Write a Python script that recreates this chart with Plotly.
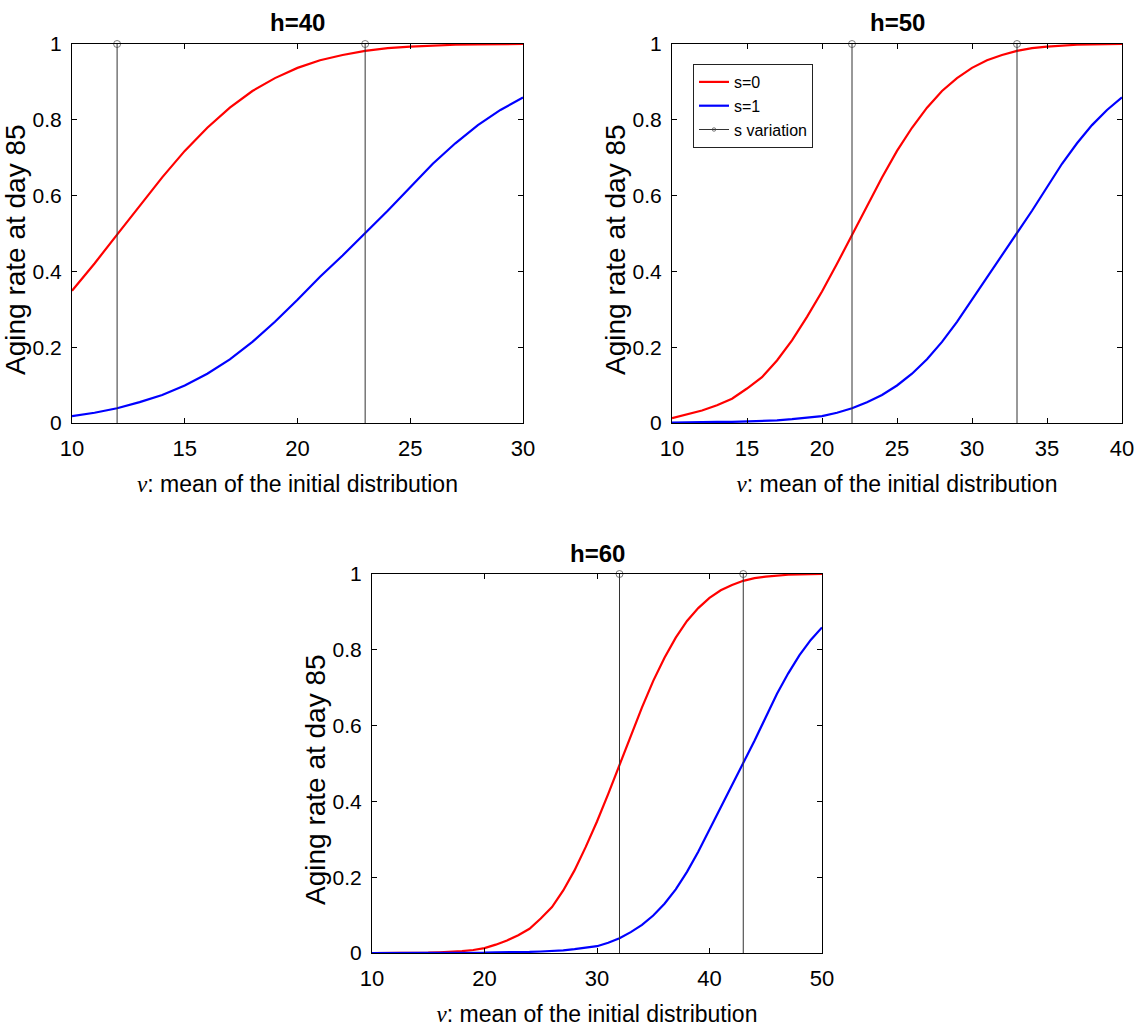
import plotly.graph_objects as go

# ---------------- data ----------------
nu_h40 = list(range(10, 31))
s0_h40 = [0.349, 0.421, 0.497, 0.574, 0.648, 0.718, 0.779, 0.832, 0.876, 0.910,
          0.937, 0.957, 0.971, 0.982, 0.989, 0.993, 0.996, 0.998, 0.999, 1.0, 1.0]
s1_h40 = [0.018, 0.027, 0.039, 0.055, 0.074, 0.099, 0.130, 0.168, 0.214, 0.267,
          0.325, 0.386, 0.442, 0.500, 0.560, 0.622, 0.684, 0.738, 0.786, 0.826, 0.859]

nu_h50 = list(range(10, 41))
s0_h50 = [0.013, 0.022, 0.033, 0.047, 0.064, 0.091, 0.121, 0.165, 0.218, 0.280,
          0.347, 0.420, 0.497, 0.574, 0.648, 0.718, 0.779, 0.832, 0.876, 0.910,
          0.937, 0.957, 0.971, 0.982, 0.989, 0.993, 0.996, 0.998, 0.999, 1.0, 1.0]
s1_h50 = [0.001, 0.002, 0.002, 0.003, 0.003, 0.004, 0.005, 0.007, 0.010, 0.013,
          0.018, 0.027, 0.039, 0.055, 0.074, 0.099, 0.130, 0.168, 0.214, 0.267,
          0.325, 0.386, 0.442, 0.500, 0.560, 0.622, 0.684, 0.738, 0.786, 0.826, 0.859]

nu_h60 = list(range(10, 51))
s0_h60 = [0.000, 0.000, 0.000, 0.000, 0.001, 0.001, 0.002, 0.003, 0.005, 0.008,
          0.013, 0.022, 0.033, 0.047, 0.064, 0.091, 0.121, 0.165, 0.218, 0.280,
          0.347, 0.420, 0.497, 0.574, 0.648, 0.718, 0.779, 0.832, 0.876, 0.910,
          0.937, 0.957, 0.971, 0.982, 0.989, 0.993, 0.996, 0.998, 0.999, 1.0, 1.0]
s1_h60 = [0.000, 0.000, 0.000, 0.000, 0.000, 0.000, 0.000, 0.000, 0.001, 0.001,
          0.001, 0.002, 0.002, 0.003, 0.003, 0.004, 0.005, 0.007, 0.010, 0.013,
          0.018, 0.027, 0.039, 0.055, 0.074, 0.099, 0.130, 0.168, 0.214, 0.267,
          0.325, 0.386, 0.442, 0.500, 0.560, 0.622, 0.684, 0.738, 0.786, 0.826, 0.859]

# s variation markers (nu value where each curve crosses 0.5)
svar_h40 = [12, 23]
svar_h50 = [22, 33]
svar_h60 = [32, 43]

titles = ["h=40", "h=50", "h=60"]
x_ranges = [[10, 30], [10, 40], [10, 50]]
x_dticks = [5, 5, 10]
y_ticks = [0, 0.2, 0.4, 0.6, 0.8, 1]
y_title = "Aging rate at day 85"
x_title = "<span style='font-family:Liberation Serif'><i>ν</i></span>: mean of the initial distribution"

# ---------------- figure ----------------
W, H = 1137, 1027
FONT = "Liberation Sans Narrow, Liberation Sans, Arial, sans-serif"

# plot-area pixel boxes (left, right, top, bottom)
boxes = [(72, 523, 44, 423), (672, 1122, 44, 423), (372, 822, 574, 953)]

fig = go.Figure()

panels = [
    (nu_h40, s0_h40, s1_h40, svar_h40),
    (nu_h50, s0_h50, s1_h50, svar_h50),
    (nu_h60, s0_h60, s1_h60, svar_h60),
]

for i, (nu, s0, s1, sv) in enumerate(panels):
    xa = "x" if i == 0 else f"x{i+1}"
    ya = "y" if i == 0 else f"y{i+1}"
    show = (i == 1)
    fig.add_trace(go.Scatter(x=nu, y=s0, mode="lines", name="s=0",
                             line=dict(color="#ff0000", width=2.2),
                             xaxis=xa, yaxis=ya, showlegend=show, legendrank=1))
    fig.add_trace(go.Scatter(x=nu, y=s1, mode="lines", name="s=1",
                             line=dict(color="#0000ff", width=2.2),
                             xaxis=xa, yaxis=ya, showlegend=show, legendrank=2))
    for k, xv in enumerate(sv):
        fig.add_trace(go.Scatter(x=[xv, xv], y=[0, 1], mode="lines+markers",
                                 name="s variation",
                                 line=dict(color="#333333", width=1),
                                 marker=dict(symbol="circle-open", size=[0, 7],
                                             color="#444444", line=dict(width=1)),
                                 cliponaxis=False,
                                 xaxis=xa, yaxis=ya,
                                 showlegend=(show and k == 0), legendrank=3))

layout = dict(
    width=W, height=H,
    margin=dict(l=0, r=0, t=0, b=0, autoexpand=False),
    paper_bgcolor="white", plot_bgcolor="white",
    font=dict(family=FONT, color="black", size=20),
    legend=dict(x=693 / W, y=1 - 64 / H, xanchor="left", yanchor="top",
                bgcolor="white", bordercolor="#222222", borderwidth=1,
                font=dict(size=16, family=FONT), tracegroupgap=0,
                itemwidth=30),
    annotations=[],
)

for i, (l, r, t, b) in enumerate(boxes):
    sx = "xaxis" if i == 0 else f"xaxis{i+1}"
    sy = "yaxis" if i == 0 else f"yaxis{i+1}"
    xa_ref = "x" if i == 0 else f"x{i+1}"
    ya_ref = "y" if i == 0 else f"y{i+1}"
    layout[sx] = dict(
        domain=[l / W, r / W], anchor=ya_ref, range=x_ranges[i],
        dtick=x_dticks[i], tick0=10, automargin=False,
        showline=True, linecolor="black", linewidth=1, mirror="ticks",
        ticks="inside", ticklen=5, tickcolor="black",
        showgrid=False, zeroline=False,
        tickfont=dict(size=22, family=FONT),
        ticklabelstandoff=6,
        title=dict(text=x_title, font=dict(size=23, family=FONT), standoff=15),
    )
    layout[sy] = dict(
        domain=[1 - b / H, 1 - t / H], anchor=xa_ref, range=[0, 1],
        tickvals=y_ticks, automargin=False,
        showline=True, linecolor="black", linewidth=1, mirror="ticks",
        ticks="inside", ticklen=5, tickcolor="black",
        showgrid=False, zeroline=False,
        tickfont=dict(size=21, family=FONT),
        ticklabelstandoff=5,
    )
    # y-axis title (placed as rotated text to match the reference position)
    layout["annotations"].append(dict(
        text=y_title, xref="paper", yref="paper", textangle=-90,
        x=(l - 57) / W, y=1 - (t + 206) / H, xanchor="center", yanchor="middle",
        showarrow=False,
        font=dict(size=28, family="Liberation Sans, Arial, sans-serif", color="black"),
    ))
    # panel title
    layout["annotations"].append(dict(
        text=f"<b>{titles[i]}</b>", xref="paper", yref="paper",
        x=(l + r) / 2 / W, y=1 - (t - 21) / H, xanchor="center", yanchor="middle",
        showarrow=False, font=dict(size=24, family=FONT, color="black"),
    ))

fig.update_layout(**layout)
fig.write_html("out.html")
